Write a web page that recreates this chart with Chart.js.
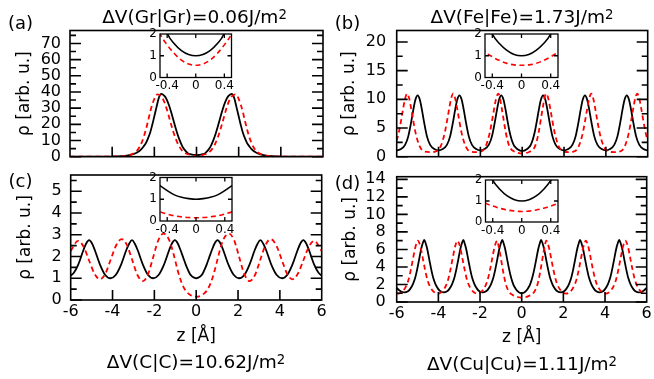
<!DOCTYPE html>
<html>
<head>
    <meta charset="utf-8">
    <title>Density profiles</title>
    <script src="https://cdn.jsdelivr.net/npm/chart.js"></script>
    <style>
        body { margin: 0; background: #fff; }
        #fig { position: relative; width: 654px; height: 379px; overflow: hidden; font-family: 'DejaVu Sans', sans-serif; color: #000; }
        #fig canvas { position: absolute; left: 0; top: 0; }
        .ttl { position: absolute; transform: translateX(-50%); font-size: 18.5px; line-height: 18.5px; white-space: nowrap; }
        .ttl sup { font-size: 0.72em; line-height: 0; vertical-align: 0.32em; }
        .tag { position: absolute; transform: translateX(-50%); font-size: 18px; line-height: 18px; white-space: nowrap; }
    </style>
</head>
<body>
<div id="fig">
    <canvas id="pa" width="654" height="379"></canvas>
    <canvas id="pb" width="654" height="379"></canvas>
    <canvas id="pc" width="654" height="379"></canvas>
    <canvas id="pd" width="654" height="379"></canvas>
    <canvas id="ia" width="654" height="379"></canvas>
    <canvas id="ib" width="654" height="379"></canvas>
    <canvas id="ic" width="654" height="379"></canvas>
    <canvas id="id" width="654" height="379"></canvas>

    <div class="ttl" style="left:194.5px; top:7.6px">ΔV(Gr|Gr)=0.06J/m<sup>2</sup></div>
    <div class="ttl" style="left:522px; top:7.6px">ΔV(Fe|Fe)=1.73J/m<sup>2</sup></div>
    <div class="ttl" style="left:196px; top:353.3px">ΔV(C|C)=10.62J/m<sup>2</sup></div>
    <div class="ttl" style="left:522px; top:354.8px">ΔV(Cu|Cu)=1.11J/m<sup>2</sup></div>
    <div class="tag" style="left:20.5px; top:14px">(a)</div>
    <div class="tag" style="left:347.5px; top:14.3px">(b)</div>
    <div class="tag" style="left:20.5px; top:172.3px">(c)</div>
    <div class="tag" style="left:347.5px; top:174px">(d)</div>
</div>

<script>
    Chart.defaults.font.family = "'DejaVu Sans', sans-serif";
    Chart.defaults.color = '#000';

    // tick values
    const zTicks = [-6, -4, -2, 0, 2, 4, 6];
    const zInner = [-4, -2, 0, 2, 4];
    const insetZTicks = [-0.4, 0, 0.4];
    const insetRhoTicks = [0, 1, 2];
    const aRhoTicks = [0, 10, 20, 30, 40, 50, 60, 70];
    const aRhoMinor = [5, 15, 25, 35, 45, 55, 65, 75];
    const bRhoTicks = [0, 5, 10, 15, 20];
    const bRhoMinor = [2.5, 7.5, 12.5, 17.5];
    const cRhoTicks = [0, 1, 2, 3, 4, 5];
    const cRhoMinor = [0.5, 1.5, 2.5, 3.5, 4.5, 5.5];
    const dRhoTicks = [0, 2, 4, 6, 8, 10, 12, 14];
    const dRhoMinor = [1, 3, 5, 7, 9, 11, 13];

    // (a) Gr|Gr : [z, rho]
    const aBlack = [[-6,0],[-4.5,0],[-4,0.1],[-3.6,0.3],[-3.3,0.7],[-3,1.6],[-2.8,2.8],[-2.6,4.9],[-2.5,6.5],[-2.4,8.4],[-2.3,11.3],[-2.2,14.8],[-2.1,19.6],[-2,25],[-1.9,30.5],[-1.8,35.8],[-1.74,37.9],[-1.68,38.8],[-1.6,38.5],[-1.5,37.3],[-1.4,35],[-1.3,31.6],[-1.2,27.4],[-1.1,22.8],[-1,18.2],[-0.9,13.9],[-0.8,10.2],[-0.7,7.2],[-0.6,4.9],[-0.5,3.3],[-0.4,2.05],[-0.3,1.55],[-0.2,1.24],[-0.1,1.06],[0,1],
        [0.1,1.06],[0.2,1.24],[0.3,1.55],[0.4,2.05],[0.5,3.3],[0.6,4.9],[0.7,7.2],[0.8,10.2],[0.9,13.9],[1,18.2],[1.1,22.8],[1.2,27.4],[1.3,31.6],[1.4,35],[1.5,37.3],[1.6,38.5],[1.68,38.8],[1.74,37.9],[1.8,35.8],[1.9,30.5],[2,25],[2.1,19.6],[2.2,14.8],[2.3,11.3],[2.4,8.4],[2.5,6.5],[2.6,4.9],[2.8,2.8],[3,1.6],[3.3,0.7],[3.6,0.3],[4,0.1],[4.5,0],[6,0]];
    const aRed = [[-6,0],[-4.5,0],[-4,0.05],[-3.5,0.3],[-3.2,0.9],[-3,1.9],[-2.8,4.1],[-2.7,6],[-2.6,8.7],[-2.5,12.3],[-2.4,16.8],[-2.3,22],[-2.2,27.5],[-2.1,32.2],[-2,35.8],[-1.92,37.8],[-1.85,38.5],[-1.78,38.3],[-1.7,37.6],[-1.6,35.8],[-1.5,33],[-1.4,29],[-1.3,24.4],[-1.2,19.8],[-1.1,15.4],[-1,11.6],[-0.9,8.4],[-0.8,5.9],[-0.7,4.1],[-0.6,2.8],[-0.5,2],[-0.4,1.5],[-0.3,1.1],[-0.2,0.8],[-0.1,0.62],[0,0.56],
        [0.1,0.62],[0.2,0.8],[0.3,1.1],[0.4,1.5],[0.5,2],[0.6,2.8],[0.7,4.1],[0.8,5.9],[0.9,8.4],[1,11.6],[1.1,15.4],[1.2,19.8],[1.3,24.4],[1.4,29],[1.5,33],[1.6,35.8],[1.7,37.6],[1.78,38.3],[1.85,38.5],[1.92,37.8],[2,35.8],[2.1,32.2],[2.2,27.5],[2.3,22],[2.4,16.8],[2.5,12.3],[2.6,8.7],[2.7,6],[2.8,4.1],[3,1.9],[3.2,0.9],[3.5,0.3],[4,0.05],[4.5,0],[6,0]];

    // (b) Fe|Fe
    const bBlack = [[-6,1.1],[-5.8,1.33],[-5.6,2.05],[-5.45,3.5],[-5.3,6.2],[-5.2,8.3],[-5.1,10],[-5,10.7],[-4.9,10],[-4.8,8.3],[-4.7,6.2],[-4.55,3.5],[-4.4,2.05],[-4.2,1.33],[-4,1.1],[-3.8,1.33],[-3.6,2.05],[-3.45,3.5],[-3.3,6.2],[-3.2,8.3],[-3.1,10],[-3,10.7],[-2.9,10],[-2.8,8.3],[-2.7,6.2],[-2.55,3.5],[-2.4,2.05],[-2.2,1.33],[-2,1.1],[-1.8,1.33],[-1.6,2.05],[-1.45,3.5],[-1.3,6.2],[-1.2,8.3],[-1.1,10],[-1,10.7],[-0.9,10],[-0.8,8.3],[-0.7,6.2],[-0.6,4.3],[-0.5,2.9],[-0.4,2],[-0.3,1.55],[-0.2,1.25],[-0.1,1.06],[0,1],
        [0.1,1.06],[0.2,1.25],[0.3,1.55],[0.4,2],[0.5,2.9],[0.6,4.3],[0.7,6.2],[0.8,8.3],[0.9,10],[1,10.7],[1.1,10],[1.2,8.3],[1.3,6.2],[1.45,3.5],[1.6,2.05],[1.8,1.33],[2,1.1],[2.2,1.33],[2.4,2.05],[2.55,3.5],[2.7,6.2],[2.8,8.3],[2.9,10],[3,10.7],[3.1,10],[3.2,8.3],[3.3,6.2],[3.45,3.5],[3.6,2.05],[3.8,1.33],[4,1.1],[4.2,1.33],[4.4,2.05],[4.55,3.5],[4.7,6.2],[4.8,8.3],[4.9,10],[5,10.7],[5.1,10],[5.2,8.3],[5.3,6.2],[5.45,3.5],[5.6,2.05],[5.8,1.33],[6,1.1]];
    const bRed = [[-6,2.8],[-5.9,4.2],[-5.8,6.1],[-5.7,8.2],[-5.6,10.1],[-5.5,11],[-5.4,10.1],[-5.3,8.2],[-5.2,6.1],[-5.1,4.2],[-5,2.8],[-4.9,1.8],[-4.8,1.2],[-4.65,0.88],[-4.4,0.8],[-4.15,0.88],[-4,1.2],[-3.9,1.8],[-3.8,2.8],[-3.7,4.2],[-3.6,6.1],[-3.5,8.2],[-3.4,10.1],[-3.3,11],[-3.2,10.1],[-3.1,8.2],[-3,6.1],[-2.9,4.2],[-2.8,2.8],[-2.7,1.8],[-2.6,1.2],[-2.45,0.88],[-2.2,0.8],[-2,0.88],[-1.85,1.2],[-1.75,1.8],[-1.65,2.8],[-1.55,4.2],[-1.45,6.1],[-1.35,8.2],[-1.25,10.1],[-1.15,11],[-1.08,10.5],[-1,8.9],[-0.9,6.7],[-0.8,4.5],[-0.7,2.8],[-0.6,1.7],[-0.5,1.2],[-0.4,0.95],[-0.3,0.78],[-0.2,0.65],[-0.1,0.58],[0,0.56],
        [0.1,0.58],[0.2,0.65],[0.3,0.78],[0.4,0.95],[0.5,1.2],[0.6,1.7],[0.7,2.8],[0.8,4.5],[0.9,6.7],[1,8.9],[1.08,10.5],[1.15,11],[1.25,10.1],[1.35,8.2],[1.45,6.1],[1.55,4.2],[1.65,2.8],[1.75,1.8],[1.85,1.2],[2,0.88],[2.2,0.8],[2.45,0.88],[2.6,1.2],[2.7,1.8],[2.8,2.8],[2.9,4.2],[3,6.1],[3.1,8.2],[3.2,10.1],[3.3,11],[3.4,10.1],[3.5,8.2],[3.6,6.1],[3.7,4.2],[3.8,2.8],[3.9,1.8],[4,1.2],[4.15,0.88],[4.4,0.8],[4.65,0.88],[4.8,1.2],[4.9,1.8],[5,2.8],[5.1,4.2],[5.2,6.1],[5.3,8.2],[5.4,10.1],[5.5,11],[5.6,10.1],[5.7,8.2],[5.8,6.1],[5.9,4.2],[6,2.8]];

    // (c) C|C
    const cBlack = [[-6,1.12],[-5.85,1.25],[-5.64,1.63],[-5.39,2.3],[-5.26,2.6],[-5.12,2.75],[-4.98,2.6],[-4.85,2.3],[-4.6,1.63],[-4.35,1.15],[-4.1,1],[-3.85,1.15],[-3.59,1.63],[-3.34,2.3],[-3.2,2.6],[-3.07,2.75],[-2.94,2.6],[-2.8,2.3],[-2.55,1.63],[-2.3,1.15],[-2.05,1],[-1.8,1.15],[-1.54,1.63],[-1.29,2.3],[-1.16,2.6],[-1.02,2.75],[-0.88,2.6],[-0.75,2.3],[-0.62,1.95],[-0.5,1.63],[-0.4,1.4],[-0.3,1.2],[-0.2,1.09],[-0.1,1.03],[0,1],
        [0.1,1.03],[0.2,1.09],[0.3,1.2],[0.4,1.4],[0.5,1.63],[0.62,1.95],[0.75,2.3],[0.88,2.6],[1.02,2.75],[1.16,2.6],[1.29,2.3],[1.54,1.63],[1.8,1.15],[2.05,1],[2.3,1.15],[2.55,1.63],[2.8,2.3],[2.94,2.6],[3.07,2.75],[3.2,2.6],[3.34,2.3],[3.59,1.63],[3.85,1.15],[4.1,1],[4.35,1.15],[4.6,1.63],[4.85,2.3],[4.98,2.6],[5.12,2.75],[5.26,2.6],[5.39,2.3],[5.64,1.63],[5.85,1.25],[6,1.12]];
    const cRed = [[-6,2.25],[-5.65,2.72],[-5.39,2.46],[-5.13,1.84],[-4.86,1.21],[-4.6,0.95],[-4.34,1.22],[-4.08,1.88],[-3.82,2.53],[-3.56,2.8],[-3.31,2.52],[-3.06,1.84],[-2.81,1.15],[-2.55,0.87],[-2.3,1.19],[-2.06,1.96],[-1.82,2.73],[-1.57,3.05],[-1.42,2.97],[-1.3,2.78],[-1.2,2.52],[-1.1,2.18],[-1,1.8],[-0.9,1.42],[-0.8,1.08],[-0.7,0.8],[-0.6,0.58],[-0.5,0.42],[-0.4,0.32],[-0.3,0.24],[-0.2,0.19],[-0.1,0.16],[0,0.15],
        [0.1,0.16],[0.2,0.19],[0.3,0.24],[0.4,0.32],[0.5,0.42],[0.6,0.58],[0.7,0.8],[0.8,1.08],[0.9,1.42],[1,1.8],[1.1,2.18],[1.2,2.52],[1.3,2.78],[1.42,2.97],[1.57,3.05],[1.82,2.73],[2.06,1.96],[2.3,1.19],[2.55,0.87],[2.81,1.15],[3.06,1.84],[3.31,2.52],[3.56,2.8],[3.82,2.53],[4.08,1.88],[4.34,1.22],[4.6,0.95],[4.86,1.21],[5.13,1.84],[5.39,2.46],[5.65,2.72],[6,2.25]];

    // (d) Cu|Cu
    const dBlack = [[-6,1.6],[-5.88,1.35],[-5.76,1.17],[-5.62,1.1],[-5.48,1.2],[-5.35,1.5],[-5.22,2.05],[-5.12,2.7],[-5.02,3.7],[-4.92,4.9],[-4.82,6.1],[-4.75,6.7],[-4.68,7.1],[-4.61,6.7],[-4.54,6.1],[-4.44,4.9],[-4.34,3.7],[-4.24,2.7],[-4.14,2.05],[-4.01,1.5],[-3.88,1.2],[-3.74,1.1],[-3.6,1.2],[-3.47,1.5],[-3.34,2.05],[-3.24,2.7],[-3.14,3.7],[-3.04,4.9],[-2.94,6.1],[-2.87,6.7],[-2.8,7.1],[-2.74,6.7],[-2.67,6.1],[-2.57,4.9],[-2.47,3.7],[-2.37,2.7],[-2.27,2.05],[-2.14,1.5],[-2.01,1.2],[-1.87,1.1],[-1.73,1.2],[-1.6,1.5],[-1.47,2.05],[-1.37,2.7],[-1.27,3.7],[-1.17,4.9],[-1.07,6.1],[-1,6.7],[-0.93,7.1],[-0.87,6.7],[-0.8,6.1],[-0.7,4.9],[-0.6,3.7],[-0.5,2.7],[-0.4,1.98],[-0.3,1.55],[-0.2,1.24],[-0.1,1.06],[0,1],
        [0.1,1.06],[0.2,1.24],[0.3,1.55],[0.4,1.98],[0.5,2.7],[0.6,3.7],[0.7,4.9],[0.8,6.1],[0.87,6.7],[0.93,7.1],[1,6.7],[1.07,6.1],[1.17,4.9],[1.27,3.7],[1.37,2.7],[1.47,2.05],[1.6,1.5],[1.73,1.2],[1.87,1.1],[2.01,1.2],[2.14,1.5],[2.27,2.05],[2.37,2.7],[2.47,3.7],[2.57,4.9],[2.67,6.1],[2.74,6.7],[2.8,7.1],[2.87,6.7],[2.94,6.1],[3.04,4.9],[3.14,3.7],[3.24,2.7],[3.34,2.05],[3.47,1.5],[3.6,1.2],[3.74,1.1],[3.88,1.2],[4.01,1.5],[4.14,2.05],[4.24,2.7],[4.34,3.7],[4.44,4.9],[4.54,6.1],[4.61,6.7],[4.68,7.1],[4.75,6.7],[4.82,6.1],[4.92,4.9],[5.02,3.7],[5.12,2.7],[5.22,2.05],[5.35,1.5],[5.48,1.2],[5.62,1.1],[5.76,1.17],[5.88,1.35],[6,1.6]];
    const dRed = [[-6,0.96],[-5.93,0.95],[-5.78,1.08],[-5.65,1.4],[-5.52,1.95],[-5.42,2.65],[-5.32,3.7],[-5.22,4.9],[-5.12,6.1],[-5.05,6.7],[-4.98,7],[-4.91,6.7],[-4.84,6.1],[-4.74,4.9],[-4.64,3.7],[-4.54,2.65],[-4.44,1.95],[-4.31,1.4],[-4.18,1.08],[-4.03,0.95],[-3.88,1.08],[-3.75,1.4],[-3.62,1.95],[-3.52,2.65],[-3.42,3.7],[-3.32,4.9],[-3.22,6.1],[-3.15,6.7],[-3.08,7],[-3.01,6.7],[-2.94,6.1],[-2.84,4.9],[-2.74,3.7],[-2.64,2.65],[-2.54,1.95],[-2.41,1.4],[-2.28,1.08],[-2.13,0.95],[-1.98,1.08],[-1.85,1.4],[-1.72,1.95],[-1.62,2.65],[-1.52,3.7],[-1.42,4.9],[-1.32,6.1],[-1.25,6.7],[-1.18,7],[-1.1,6.3],[-1,5],[-0.9,3.6],[-0.8,2.4],[-0.7,1.6],[-0.6,1.15],[-0.5,0.9],[-0.4,0.76],[-0.3,0.65],[-0.2,0.57],[-0.1,0.52],[0,0.5],
        [0.1,0.52],[0.2,0.57],[0.3,0.65],[0.4,0.76],[0.5,0.9],[0.6,1.15],[0.7,1.6],[0.8,2.4],[0.9,3.6],[1,5],[1.1,6.3],[1.18,7],[1.25,6.7],[1.32,6.1],[1.42,4.9],[1.52,3.7],[1.62,2.65],[1.72,1.95],[1.85,1.4],[1.98,1.08],[2.13,0.95],[2.28,1.08],[2.41,1.4],[2.54,1.95],[2.64,2.65],[2.74,3.7],[2.84,4.9],[2.94,6.1],[3.01,6.7],[3.08,7],[3.15,6.7],[3.22,6.1],[3.32,4.9],[3.42,3.7],[3.52,2.65],[3.62,1.95],[3.75,1.4],[3.88,1.08],[4.03,0.95],[4.18,1.08],[4.31,1.4],[4.44,1.95],[4.54,2.65],[4.64,3.7],[4.74,4.9],[4.84,6.1],[4.91,6.7],[4.98,7],[5.05,6.7],[5.12,6.1],[5.22,4.9],[5.32,3.7],[5.42,2.65],[5.52,1.95],[5.65,1.4],[5.78,1.08],[5.93,0.95],[6,0.96]];

    // red dashed drawn on top of the black solid line
    function lineSets(black, red, lw) {
        return [
            { data: red.map(([x, y]) => ({ x, y })), borderColor: '#ff0000', borderWidth: lw, borderDash: [5, 3.5],
              pointRadius: 0, cubicInterpolationMode: 'monotone', fill: false },
            { data: black.map(([x, y]) => ({ x, y })), borderColor: '#000000', borderWidth: lw,
              pointRadius: 0, cubicInterpolationMode: 'monotone', fill: false }
        ];
    }

    // box + inward ticks, gnuplot style
    function frame(f) {
        return {
            id: 'frame',
            afterDatasetsDraw(chart) {
                const { ctx, chartArea: a, scales: { x, y } } = chart;
                ctx.save();
                ctx.strokeStyle = '#000';
                ctx.lineWidth = f.lw;
                ctx.beginPath();
                const tickY = (v, len) => {
                    const py = y.getPixelForValue(v);
                    ctx.moveTo(a.left, py); ctx.lineTo(a.left + len, py);
                    ctx.moveTo(a.right, py); ctx.lineTo(a.right - len, py);
                };
                f.yMajor.forEach(v => tickY(v, f.major));
                f.yMinor.forEach(v => tickY(v, f.minor));
                f.xMajor.forEach(v => {
                    const px = x.getPixelForValue(v);
                    ctx.moveTo(px, a.bottom); ctx.lineTo(px, a.bottom - f.xLen);
                    if (f.xTop) { ctx.moveTo(px, a.top); ctx.lineTo(px, a.top + f.xLen); }
                });
                ctx.stroke();
                ctx.strokeRect(a.left, a.top, a.right - a.left, a.bottom - a.top);
                ctx.restore();
            }
        };
    }

    function makeChart(id, o) {
        return new Chart(document.getElementById(id), {
            type: 'line',
            data: { datasets: lineSets(o.black, o.red, o.lw) },
            options: {
                responsive: false,
                animation: false,
                devicePixelRatio: 1,
                events: [],
                layout: { padding: { left: o.padL, top: o.top, right: 654 - o.right, bottom: 379 - o.bottom - o.xH } },
                plugins: { legend: { display: false }, tooltip: { enabled: false } },
                scales: {
                    x: {
                        type: 'linear', min: o.xMin, max: o.xMax,
                        grid: { display: false, drawTicks: false }, border: { display: false },
                        ticks: { display: o.xLabels, font: { size: o.tickSize }, padding: o.xPad,
                                 autoSkip: false, maxRotation: 0, callback: v => String(v) },
                        title: { display: !!o.xTitle, text: o.xTitle || '', font: { size: 17 }, padding: 0 },
                        afterBuildTicks: s => { s.ticks = o.xTicks.map(v => ({ value: v })); },
                        afterFit: s => { s.height = o.xH; s.paddingLeft = 0; s.paddingRight = 0; }
                    },
                    y: {
                        type: 'linear', min: 0, max: o.yMax,
                        grid: { display: false, drawTicks: false }, border: { display: false },
                        ticks: { font: { size: o.tickSize }, padding: o.yPad, autoSkip: false, callback: v => String(v) },
                        title: { display: !!o.yTitle, text: o.yTitle || '', font: { size: 17 }, padding: 0 },
                        afterBuildTicks: s => { s.ticks = o.yTicks.map(v => ({ value: v })); },
                        afterFit: s => { s.width = o.left - o.padL; s.paddingTop = 0; s.paddingBottom = 0; }
                    }
                }
            },
            plugins: [frame(o.frame)]
        });
    }

    const rhoTitle = 'ρ [arb. u.]';
    const zTitle = 'z [Å]';

    // main panels
    makeChart('pa', { black: aBlack, red: aRed, lw: 1.8, left: 70, right: 323, top: 30.5, bottom: 156.7, padL: 14.3,
        xMin: -6, xMax: 6, xTicks: zTicks, xLabels: false, xH: 0, xPad: 2, yMax: 78, yTicks: aRhoTicks,
        yPad: 9, tickSize: 16, yTitle: rhoTitle,
        frame: { lw: 1.6, major: 11, minor: 6, xLen: 10, xTop: false, yMajor: aRhoTicks, yMinor: aRhoMinor, xMajor: zInner } });
    makeChart('pb', { black: bBlack, red: bRed, lw: 1.8, left: 396.7, right: 647.7, top: 30.5, bottom: 156.7, padL: 339.3,
        xMin: -6, xMax: 6, xTicks: zTicks, xLabels: false, xH: 0, xPad: 2, yMax: 22, yTicks: bRhoTicks,
        yPad: 10.5, tickSize: 16, yTitle: rhoTitle,
        frame: { lw: 1.6, major: 11, minor: 6, xLen: 10, xTop: false, yMajor: bRhoTicks, yMinor: bRhoMinor, xMajor: zInner } });
    makeChart('pc', { black: cBlack, red: cRed, lw: 1.8, left: 70.7, right: 321.7, top: 175, bottom: 300, padL: 15.3,
        xMin: -6, xMax: 6, xTicks: zTicks, xLabels: true, xH: 47.2, xPad: 2.5, yMax: 5.75, yTicks: cRhoTicks,
        yPad: 9, tickSize: 16, yTitle: rhoTitle, xTitle: zTitle,
        frame: { lw: 1.6, major: 11, minor: 6, xLen: 10, xTop: false, yMajor: cRhoTicks, yMinor: cRhoMinor, xMajor: zInner } });
    makeChart('pd', { black: dBlack, red: dRed, lw: 1.8, left: 396.7, right: 646.7, top: 176.7, bottom: 302, padL: 340.3,
        xMin: -6, xMax: 6, xTicks: zTicks, xLabels: true, xH: 46.2, xPad: 2.5, yMax: 14.3, yTicks: dRhoTicks,
        yPad: 11, tickSize: 16, yTitle: rhoTitle, xTitle: zTitle,
        frame: { lw: 1.6, major: 11, minor: 6, xLen: 10, xTop: false, yMajor: dRhoTicks, yMinor: dRhoMinor, xMajor: zInner } });

    // insets: same curves, zoomed on the central minimum
    const insetFrame = { lw: 1.3, major: 4, minor: 0, xLen: 4, xTop: true, yMajor: [1], yMinor: [], xMajor: insetZTicks };
    const insetBase = { lw: 1.6, xMin: -0.5, xMax: 0.5, xTicks: insetZTicks, xLabels: true, xH: 14, xPad: 1.5,
        yMax: 2, yTicks: insetRhoTicks, yPad: 3, tickSize: 12, frame: insetFrame };
    makeChart('ia', Object.assign({}, insetBase, { black: aBlack, red: aRed, left: 160, right: 231.5, top: 34, bottom: 77.5, padL: 150 }));
    makeChart('ib', Object.assign({}, insetBase, { black: bBlack, red: bRed, left: 485, right: 558, top: 34, bottom: 77.5, padL: 475 }));
    makeChart('ic', Object.assign({}, insetBase, { black: cBlack, red: cRed, left: 160, right: 232, top: 177.5, bottom: 221, padL: 150 }));
    makeChart('id', Object.assign({}, insetBase, { black: dBlack, red: dRed, left: 485.5, right: 558, top: 180, bottom: 222, padL: 475.5 }));
</script>
</body>
</html>
